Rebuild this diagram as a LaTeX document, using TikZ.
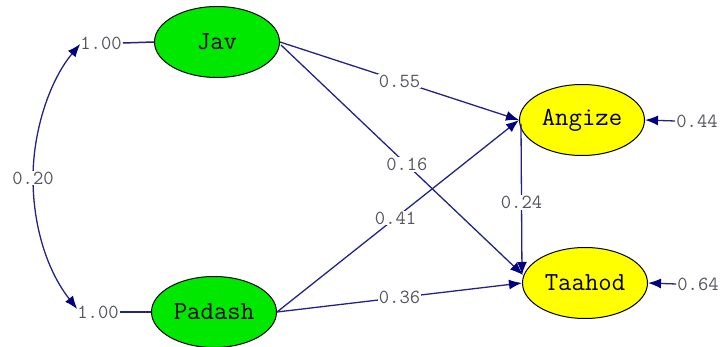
\documentclass[tikz,border=0pt]{standalone}
\usepackage{fontspec}
\usetikzlibrary{arrows.meta,shapes.geometric,calc}
\definecolor{ln}{RGB}{35,35,135}
\definecolor{tipc}{RGB}{0,0,128}
\definecolor{grn}{RGB}{0,232,0}
\definecolor{ylw}{RGB}{255,255,0}
\definecolor{lbl}{RGB}{85,85,95}
\begin{document}
\begin{tikzpicture}[x=1pt,y=-1pt,
  latent/.style={ellipse, draw=black, line width=1pt, minimum width=125pt, minimum height=71pt, inner sep=0pt, font=\ttfamily\fontsize{26}{26}\selectfont},
  coef/.style={fill=white, inner sep=1pt, text=lbl, font=\ttfamily\fontsize{20}{20}\selectfont},
  pth/.style={draw=ln, line width=1.3pt, -{Latex[length=13pt,width=10pt,color=tipc]}},
  plain/.style={draw=ln, line width=1.5pt},
]
\useasboundingbox (0,0) rectangle (721,347);
% latent variables
\node[latent, fill=grn] (Jav) at (217,42) {Jav};
\node[latent, fill=grn] (Padash) at (214,312) {Padash};
\node[latent, fill=ylw] (Angize) at (582,120) {Angize};
\node[latent, fill=ylw] (Taahod) at (585,283) {Taahod};
% variance labels
\node[coef] (v1) at (101,43) {1.00};
\node[coef] (v2) at (98,312) {1.00};
\node[coef] (e1) at (697,121) {0.44};
\node[coef] (e2) at (698,284) {0.64};
% variance lines
\draw[plain] (v1.east) -- (Jav.west);
\draw[plain] (v2.east) -- (Padash.west);
\draw[pth] (e1.west) -- (Angize.east);
\draw[pth] (e2.west) -- (Taahod.east);
% covariance
\draw[draw=ln, line width=1.3pt, {Latex[length=13pt,width=10pt,color=tipc]}-{Latex[length=13pt,width=10pt,color=tipc]}]
  ($(v1.west)+(1,1)$) .. controls (50,80) and (33,130) .. (33,178)
  .. controls (33,228) and (48,272) .. ($(v2.west)+(1,-3)$);
\node[coef] (c1) at (33,178) {0.20};
% structural paths
\draw[pth] (Jav.east) -- node[coef, pos=0.5] (p1) {0.55} (Angize.west);
\draw[pth] ($(Jav.east)+(1,3)$) -- node[coef, pos=0.52] (p2) {0.16} ($(Taahod.west)+(1,-8)$);
\draw[pth] (Padash.east) -- node[coef, pos=0.49] (p3) {0.41} (Angize.west);
\draw[pth] (Padash.east) -- node[coef, pos=0.5] (p4) {0.36} (Taahod.west);
\draw[pth] ($(Angize.west)+(2,4)$) -- node[coef, pos=0.52] (p5) {0.24} ($(Taahod.west)+(0,-8)$);
\end{tikzpicture}
\end{document}
